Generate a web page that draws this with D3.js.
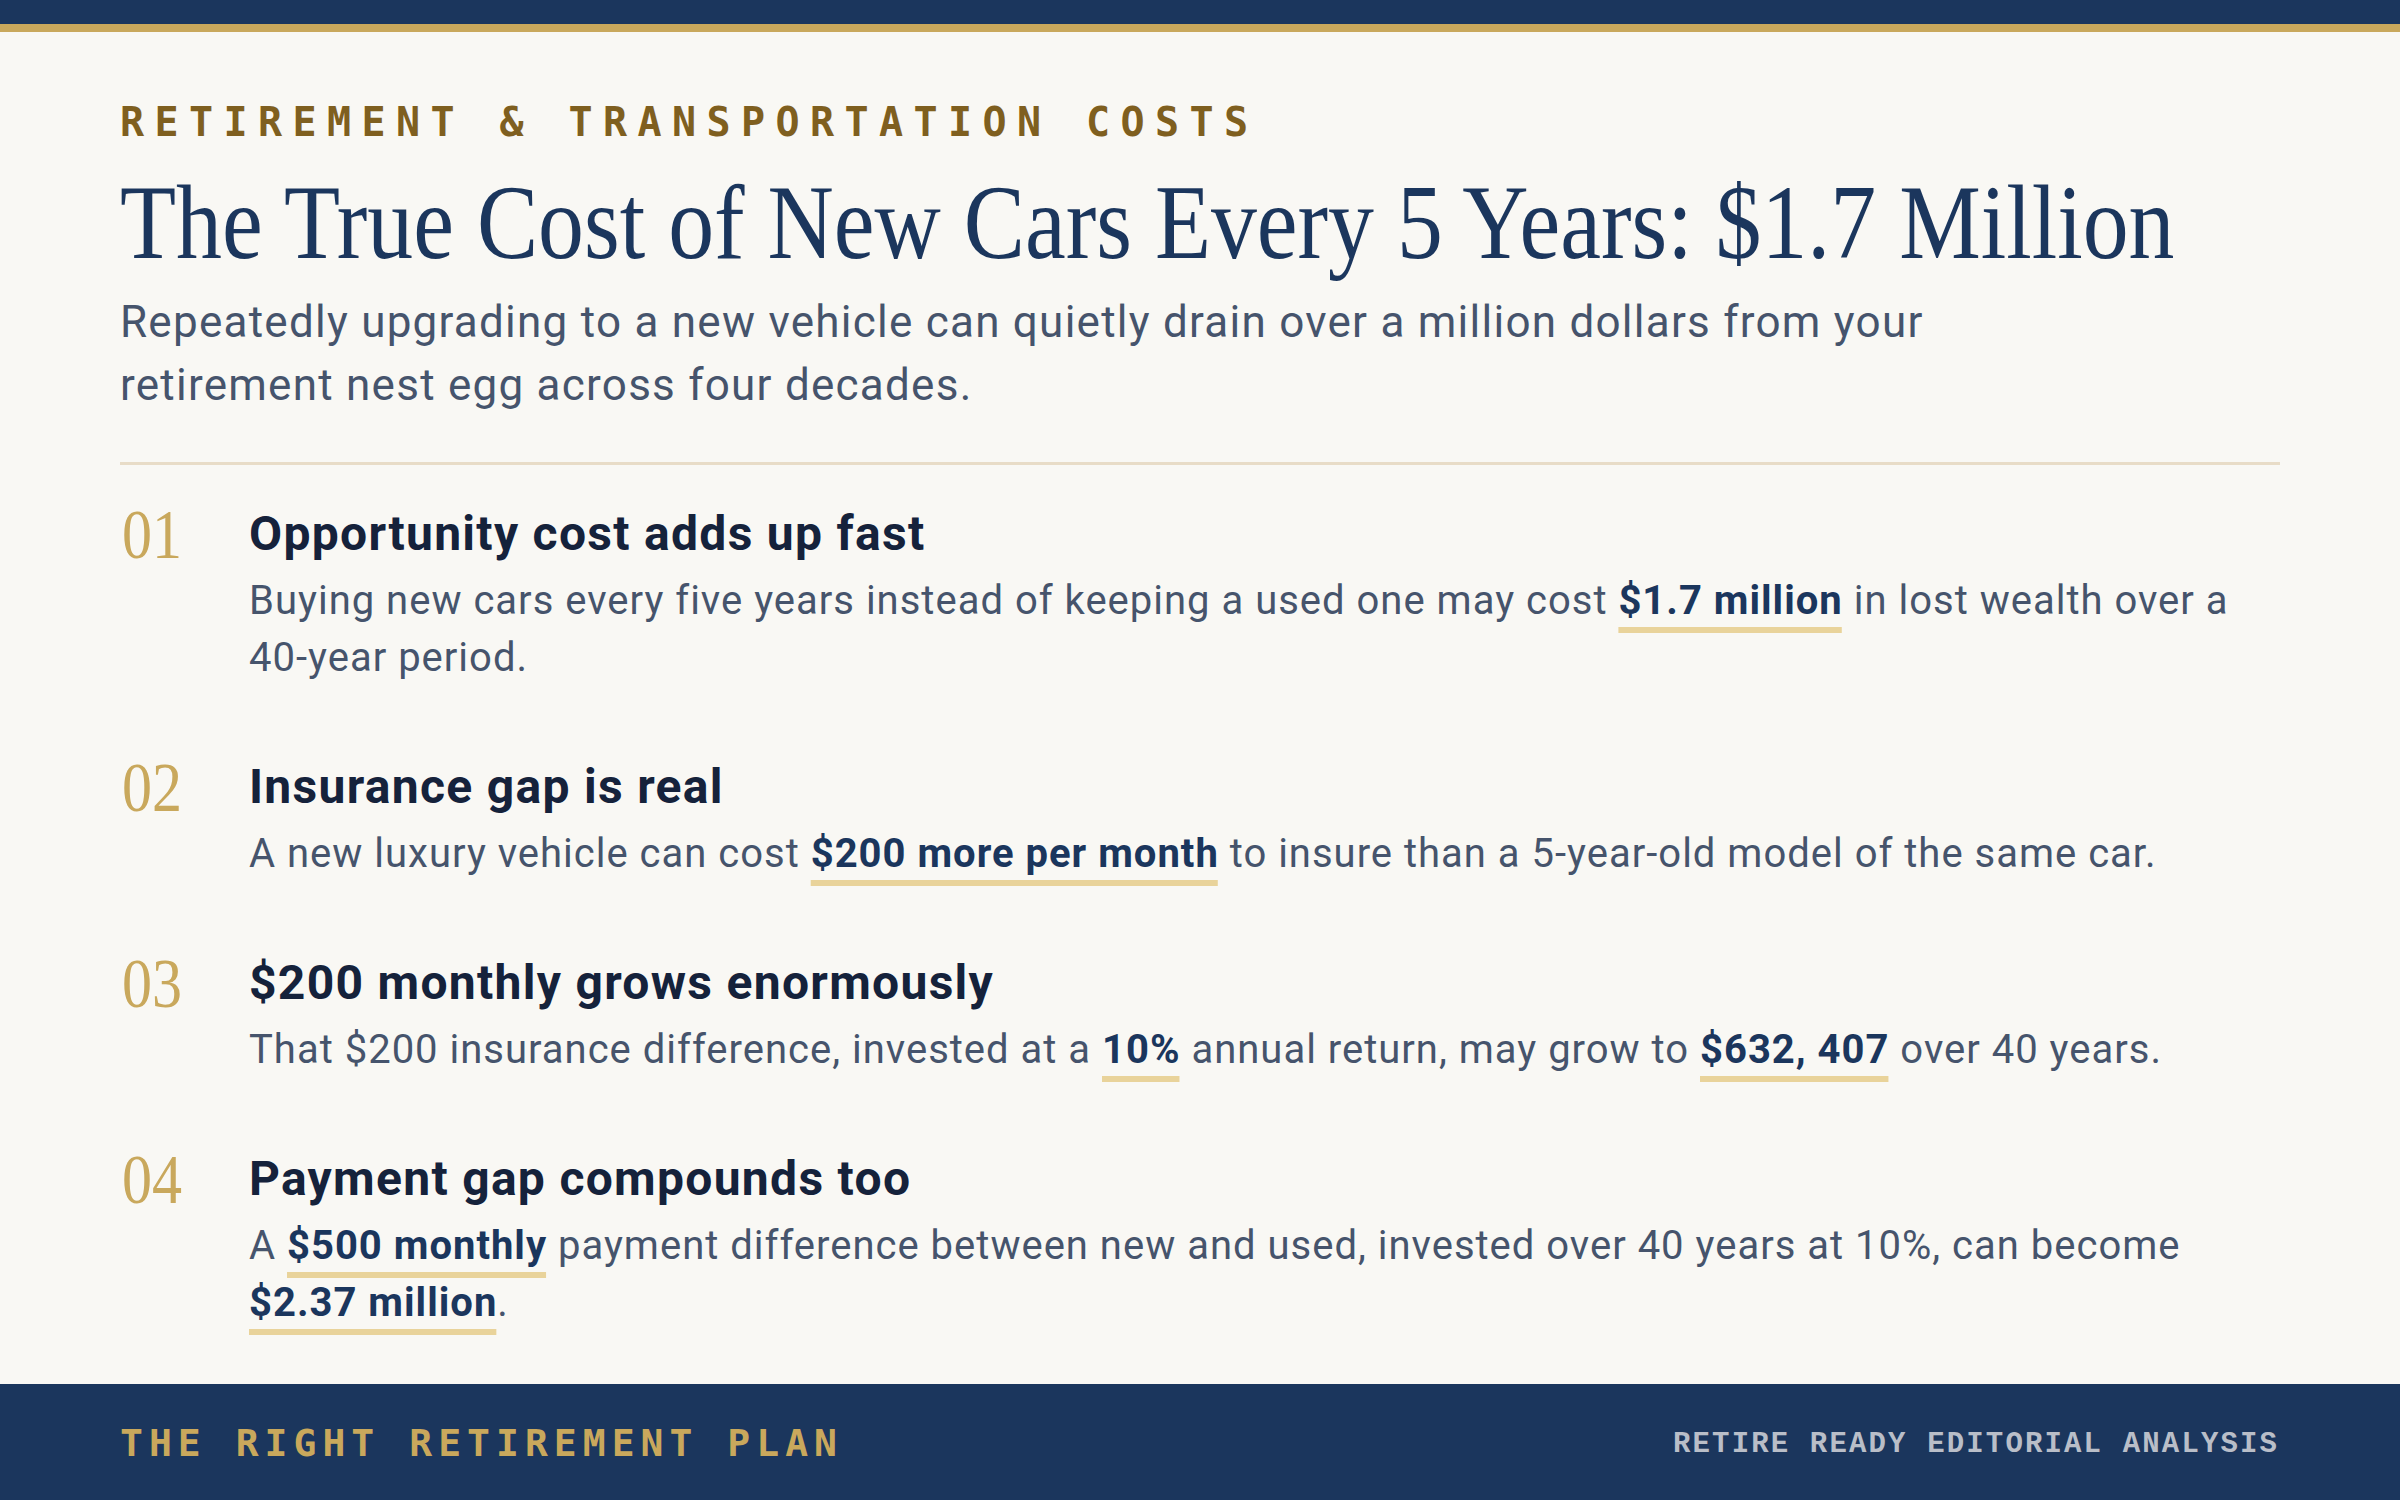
<!DOCTYPE html>
<html>
<head>
<meta charset="utf-8">
<script src="https://cdn.jsdelivr.net/npm/d3@7"></script>
<style>
    html, body { margin: 0; padding: 0; background: #f9f8f4; }
    svg { display: block; }
</style>
</head>
<body>
<div id="chart"></div>
<script>
var width = 2400;
var height = 1500;

var colors = {
    bg: "#f9f8f4",
    navy: "#1b365d",
    gold: "#c9a85c",
    eyebrow: "#7f5f1f",
    muted: "#46546c",
    rule: "#e8dcc7",
    heading: "#15223b",
    mark: "#e9d39a",
    footerRight: "#b9bec8"
};

var serif = "'Liberation Serif', 'DejaVu Serif', serif";
var sans = "Roboto, 'Noto Sans', sans-serif";
var mono = "'DejaVu Sans Mono', 'Liberation Mono', monospace";

// Texts of the card
var eyebrow = "RETIREMENT & TRANSPORTATION COSTS";
var title = "The True Cost of New Cars Every 5 Years: $1.7 Million";
var subtitleLines = [
    "Repeatedly upgrading to a new vehicle can quietly drain over a million dollars from your",
    "retirement nest egg across four decades."
];
var footerLeft = "THE RIGHT RETIREMENT PLAN";
var footerRight = "RETIRE READY EDITORIAL ANALYSIS";

// The four points. Body lines are lists of [text, highlighted]
var itemNumbers = ["01", "02", "03", "04"];
var itemHeadings = [
    "Opportunity cost adds up fast",
    "Insurance gap is real",
    "$200 monthly grows enormously",
    "Payment gap compounds too"
];
var itemLines = [
    [
        [["Buying new cars every five years instead of keeping a used one may cost ", 0], ["$1.7 million", 1], [" in lost wealth over a", 0]],
        [["40-year period.", 0]]
    ],
    [
        [["A new luxury vehicle can cost ", 0], ["$200 more per month", 1], [" to insure than a 5-year-old model of the same car.", 0]]
    ],
    [
        [["That $200 insurance difference, invested at a ", 0], ["10%", 1], [" annual return, may grow to ", 0], ["$632, 407", 1], [" over 40 years.", 0]]
    ],
    [
        [["A ", 0], ["$500 monthly", 1], [" payment difference between new and used, invested over 40 years at 10%, can become", 0]],
        [["$2.37 million", 1], [".", 0]]
    ]
];

var left = 120;
var right = 2280;
var textLeft = 249;

var svg = d3.select("#chart")
    .append("svg")
    .attr("width", width)
    .attr("height", height);

svg.append("rect").attr("width", width).attr("height", height).attr("fill", colors.bg);

// top band
svg.append("rect").attr("width", width).attr("height", 24).attr("fill", colors.navy);
svg.append("rect").attr("y", 24).attr("width", width).attr("height", 8).attr("fill", colors.gold);

svg.append("text")
    .attr("x", left)
    .attr("y", 136)
    .attr("font-family", mono)
    .attr("font-weight", 700)
    .attr("font-size", 40)
    .attr("fill", colors.eyebrow)
    .attr("textLength", 1128)
    .attr("lengthAdjust", "spacing")
    .text(eyebrow);

/**
 * The reference headline face is narrower than Liberation Serif,
 * so the title is squeezed horizontally to the same width.
 */
var titleText = svg.append("text")
    .attr("x", 0)
    .attr("y", 0)
    .attr("font-family", serif)
    .attr("font-size", 106)
    .attr("fill", colors.navy)
    .text(title);
var titleScale = 2055 / titleText.node().getComputedTextLength();
titleText.attr("transform", "translate(" + left + ",258) scale(" + titleScale + ",1)");

svg.selectAll("text.subtitle")
    .data(subtitleLines)
    .enter()
    .append("text")
    .attr("class", "subtitle")
    .attr("x", left)
    .attr("y", function (d, i) { return 337 + i * 63; })
    .attr("font-family", sans)
    .attr("font-size", 44)
    .attr("letter-spacing", 1.25)
    .attr("fill", colors.muted)
    .text(function (d) { return d; });

svg.append("rect")
    .attr("x", left)
    .attr("y", 462)
    .attr("width", right - left)
    .attr("height", 3)
    .attr("fill", colors.rule);

/**
 * Baseline of every heading, each item pushes the next one
 * down by one extra body line per wrapped line.
 */
var headingY = [];
var y = 550;
for (var i = 0; i < itemHeadings.length; i++) {
    headingY.push(y);
    y += 196 + 57 * (itemLines[i].length - 1);
}

var items = svg.selectAll("g.item")
    .data(itemHeadings)
    .enter()
    .append("g")
    .attr("class", "item")
    .attr("transform", function (d, i) { return "translate(0," + headingY[i] + ")"; });

items.append("text")
    .attr("x", 122)
    .attr("y", 8)
    .attr("font-family", serif)
    .attr("font-size", 70)
    .attr("fill", colors.gold)
    .attr("textLength", 60)
    .attr("lengthAdjust", "spacingAndGlyphs")
    .text(function (d, i) { return itemNumbers[i]; });

items.append("text")
    .attr("x", textLeft)
    .attr("y", 0)
    .attr("font-family", sans)
    .attr("font-weight", 700)
    .attr("font-size", 48)
    .attr("letter-spacing", 1.3)
    .attr("fill", colors.heading)
    .text(function (d) { return d; });

items.each(function (d, i) {
    var g = d3.select(this);
    itemLines[i].forEach(function (line, li) {
        var ly = 64 + li * 57;
        var marks = g.append("g");
        var text = g.append("text")
            .attr("x", textLeft)
            .attr("y", ly)
            .attr("font-family", sans)
            .attr("font-size", 40)
            .attr("letter-spacing", 1)
            .attr("fill", colors.muted)
            .style("white-space", "pre");

        text.selectAll("tspan")
            .data(line)
            .enter()
            .append("tspan")
            .attr("font-weight", function (s) { return s[1] ? 700 : 400; })
            .attr("fill", function (s) { return s[1] ? colors.navy : colors.muted; })
            .text(function (s) { return s[0]; });

        // underline marker under each highlighted run
        var node = text.node();
        var offset = 0;
        line.forEach(function (s) {
            var len = s[0].length;
            if (s[1]) {
                var x0 = offset > 0 ? node.getSubStringLength(0, offset) : 0;
                var w = node.getSubStringLength(offset, len) - 1;
                marks.append("rect")
                    .attr("x", textLeft + x0)
                    .attr("y", ly + 13)
                    .attr("width", w)
                    .attr("height", 6)
                    .attr("fill", colors.mark);
            }
            offset += len;
        });
    });
});

// footer
svg.append("rect")
    .attr("y", 1384)
    .attr("width", width)
    .attr("height", height - 1384)
    .attr("fill", colors.navy);

svg.append("text")
    .attr("x", left)
    .attr("y", 1456)
    .attr("font-family", mono)
    .attr("font-weight", 700)
    .attr("font-size", 38)
    .attr("fill", colors.gold)
    .attr("textLength", 717)
    .attr("lengthAdjust", "spacing")
    .text(footerLeft);

svg.append("text")
    .attr("x", 1673)
    .attr("y", 1452)
    .attr("font-family", "'Liberation Mono', 'DejaVu Sans Mono', monospace")
    .attr("font-weight", 700)
    .attr("font-size", 29)
    .attr("fill", colors.footerRight)
    .attr("textLength", 604)
    .attr("lengthAdjust", "spacing")
    .text(footerRight);
</script>
</body>
</html>
